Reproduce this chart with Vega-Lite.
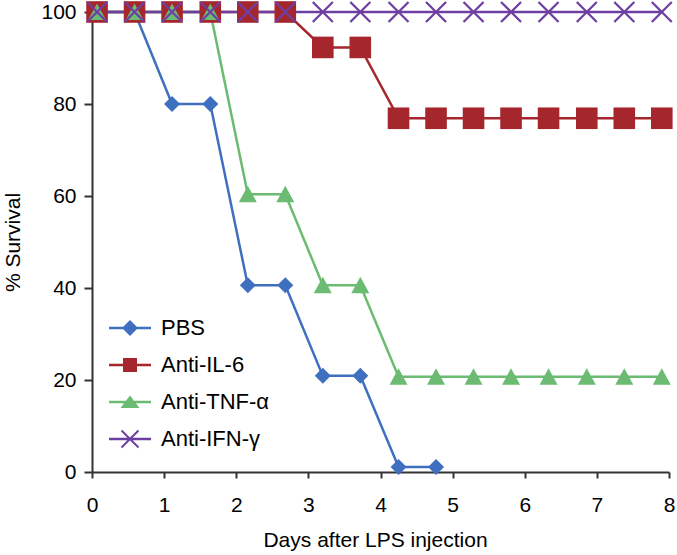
{
  "$schema": "https://vega.github.io/schema/vega-lite/v6.json",
  "width": 577,
  "height": 460,
  "autosize": "none",
  "padding": {"left": 92, "top": 12, "right": 8, "bottom": 83},
  "background": "white",
  "config": {
    "view": {"stroke": null},
    "font": "Liberation Sans",
    "axis": {
      "grid": false,
      "domainColor": "#333333",
      "domainWidth": 2,
      "tickColor": "#333333",
      "tickWidth": 2,
      "labelColor": "#000000",
      "titleColor": "#000000",
      "labelFont": "Liberation Sans",
      "titleFont": "Liberation Sans",
      "labelFontSize": 21,
      "titleFontSize": 21,
      "titleFontWeight": "normal"
    }
  },
  "data": {
    "values": [
      {"group": "PBS", "day": 0.07, "survival": 100},
      {"group": "PBS", "day": 0.59, "survival": 100},
      {"group": "PBS", "day": 1.11, "survival": 80},
      {"group": "PBS", "day": 1.64, "survival": 80},
      {"group": "PBS", "day": 2.16, "survival": 40.6},
      {"group": "PBS", "day": 2.68, "survival": 40.6},
      {"group": "PBS", "day": 3.2, "survival": 20.9},
      {"group": "PBS", "day": 3.72, "survival": 20.9},
      {"group": "PBS", "day": 4.25, "survival": 1.1},
      {"group": "PBS", "day": 4.77, "survival": 1.1},
      {"group": "Anti-IL-6", "day": 0.07, "survival": 100},
      {"group": "Anti-IL-6", "day": 0.59, "survival": 100},
      {"group": "Anti-IL-6", "day": 1.11, "survival": 100},
      {"group": "Anti-IL-6", "day": 1.64, "survival": 100},
      {"group": "Anti-IL-6", "day": 2.16, "survival": 100},
      {"group": "Anti-IL-6", "day": 2.68, "survival": 100},
      {"group": "Anti-IL-6", "day": 3.2, "survival": 92.3},
      {"group": "Anti-IL-6", "day": 3.72, "survival": 92.3},
      {"group": "Anti-IL-6", "day": 4.25, "survival": 76.9},
      {"group": "Anti-IL-6", "day": 4.77, "survival": 76.9},
      {"group": "Anti-IL-6", "day": 5.29, "survival": 76.9},
      {"group": "Anti-IL-6", "day": 5.81, "survival": 76.9},
      {"group": "Anti-IL-6", "day": 6.33, "survival": 76.9},
      {"group": "Anti-IL-6", "day": 6.86, "survival": 76.9},
      {"group": "Anti-IL-6", "day": 7.38, "survival": 76.9},
      {"group": "Anti-IL-6", "day": 7.9, "survival": 76.9},
      {"group": "Anti-TNF-α", "day": 0.07, "survival": 100},
      {"group": "Anti-TNF-α", "day": 0.59, "survival": 100},
      {"group": "Anti-TNF-α", "day": 1.11, "survival": 100},
      {"group": "Anti-TNF-α", "day": 1.64, "survival": 100},
      {"group": "Anti-TNF-α", "day": 2.16, "survival": 60.4},
      {"group": "Anti-TNF-α", "day": 2.68, "survival": 60.4},
      {"group": "Anti-TNF-α", "day": 3.2, "survival": 40.6},
      {"group": "Anti-TNF-α", "day": 3.72, "survival": 40.6},
      {"group": "Anti-TNF-α", "day": 4.25, "survival": 20.7},
      {"group": "Anti-TNF-α", "day": 4.77, "survival": 20.7},
      {"group": "Anti-TNF-α", "day": 5.29, "survival": 20.7},
      {"group": "Anti-TNF-α", "day": 5.81, "survival": 20.7},
      {"group": "Anti-TNF-α", "day": 6.33, "survival": 20.7},
      {"group": "Anti-TNF-α", "day": 6.86, "survival": 20.7},
      {"group": "Anti-TNF-α", "day": 7.38, "survival": 20.7},
      {"group": "Anti-TNF-α", "day": 7.9, "survival": 20.7},
      {"group": "Anti-IFN-γ", "day": 0.07, "survival": 100},
      {"group": "Anti-IFN-γ", "day": 0.59, "survival": 100},
      {"group": "Anti-IFN-γ", "day": 1.11, "survival": 100},
      {"group": "Anti-IFN-γ", "day": 1.64, "survival": 100},
      {"group": "Anti-IFN-γ", "day": 2.16, "survival": 100},
      {"group": "Anti-IFN-γ", "day": 2.68, "survival": 100},
      {"group": "Anti-IFN-γ", "day": 3.2, "survival": 100},
      {"group": "Anti-IFN-γ", "day": 3.72, "survival": 100},
      {"group": "Anti-IFN-γ", "day": 4.25, "survival": 100},
      {"group": "Anti-IFN-γ", "day": 4.77, "survival": 100},
      {"group": "Anti-IFN-γ", "day": 5.29, "survival": 100},
      {"group": "Anti-IFN-γ", "day": 5.81, "survival": 100},
      {"group": "Anti-IFN-γ", "day": 6.33, "survival": 100},
      {"group": "Anti-IFN-γ", "day": 6.86, "survival": 100},
      {"group": "Anti-IFN-γ", "day": 7.38, "survival": 100},
      {"group": "Anti-IFN-γ", "day": 7.9, "survival": 100}
    ]
  },
  "encoding": {
    "x": {
      "field": "day",
      "type": "quantitative",
      "scale": {"domain": [0, 8], "nice": false, "zero": false},
      "axis": {
        "title": "Days after LPS injection",
        "values": [0, 1, 2, 3, 4, 5, 6, 7, 8],
        "format": "d",
        "tickSize": 6,
        "labelPadding": 16,
        "titlePadding": 14,
        "titleX": 283,
        "labelFlush": false,
        "labelOverlap": false
      }
    },
    "y": {
      "field": "survival",
      "type": "quantitative",
      "scale": {"domain": [0, 100], "nice": false},
      "axis": {
        "title": "% Survival",
        "values": [0, 20, 40, 60, 80, 100],
        "tickSize": 8,
        "labelPadding": 8,
        "titlePadding": 17,
        "labelFlush": false,
        "labelOverlap": false
      }
    },
    "color": {
      "field": "group",
      "type": "nominal",
      "scale": {
        "domain": ["PBS", "Anti-IL-6", "Anti-TNF-α", "Anti-IFN-γ"],
        "range": ["#3F6FBF", "#A5262C", "#6CBB72", "#6E3FA2"]
      },
      "legend": {
        "title": null,
        "orient": "none",
        "legendX": 27,
        "legendY": 305,
        "labelFont": "Liberation Sans",
        "labelFontSize": 22,
        "labelColor": "#000000",
        "labelOffset": 20,
        "symbolSize": 400,
        "symbolOpacity": 1,
        "rowPadding": 15,
        "encode": {
          "symbols": {
            "update": {
              "shape": {"signal": "datum.value === 'PBS' ? 'M-2.1,-0.125H2.1V0.125H-2.1Z M0,-0.8L0.8,0L0,0.8L-0.8,0Z' : datum.value === 'Anti-IL-6' ? 'M-2.1,-0.125H2.1V0.125H-2.1Z M-0.7,-0.7H0.7V0.7H-0.7Z' : datum.value === 'Anti-TNF-α' ? 'M-2.1,-0.125H2.1V0.125H-2.1Z M0,-0.65L0.95,0.6L-0.95,0.6Z' : 'M-2.1,-0.125H2.1V0.125H-2.1Z M-0.78,-0.92L0.92,0.78L0.78,0.92L-0.92,-0.78Z M-0.92,0.78L0.78,-0.92L0.92,-0.78L-0.78,0.92Z'"},
              "fill": {"scale": "color", "field": "value"},
              "strokeWidth": {"value": 0},
              "opacity": {"value": 1}
            }
          }
        }
      }
    }
  },
  "layer": [
    {
      "mark": {"type": "line", "strokeWidth": 2.5}
    },
    {
      "transform": [{"filter": "datum.group === 'PBS'"}],
      "mark": {"type": "point", "filled": true, "size": 400, "opacity": 1, "shape": "M0,-0.8L0.8,0L0,0.8L-0.8,0Z"}
    },
    {
      "transform": [{"filter": "datum.group === 'Anti-IL-6'"}],
      "mark": {"type": "point", "filled": true, "size": 400, "opacity": 1, "shape": "M-1.08,-1.08H1.08V1.08H-1.08Z"}
    },
    {
      "transform": [{"filter": "datum.group === 'Anti-TNF-α'"}],
      "mark": {"type": "point", "filled": true, "size": 400, "opacity": 1, "shape": "M0,-0.85L0.9,0.8L-0.9,0.8Z"}
    },
    {
      "transform": [{"filter": "datum.group === 'Anti-IFN-γ'"}],
      "mark": {"type": "point", "filled": true, "size": 400, "opacity": 1, "shape": "M-0.92,-1.08L1.08,0.92L0.92,1.08L-1.08,-0.92Z M-1.08,0.92L0.92,-1.08L1.08,-0.92L-0.92,1.08Z"}
    }
  ]
}
